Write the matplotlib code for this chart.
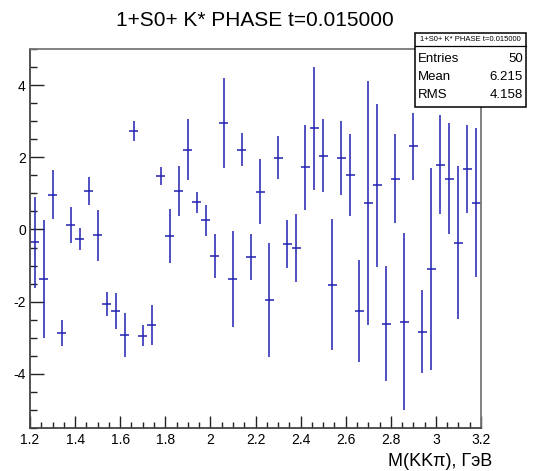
import matplotlib
matplotlib.use("Agg")
import matplotlib.pyplot as plt
from matplotlib.patches import Rectangle
from matplotlib.lines import Line2D
from matplotlib.ticker import MultipleLocator, FuncFormatter
import numpy as np

# histogram: 50 bins on [1.2, 3.2]
x_min = 1.2
x_max = 3.2
n_bins = 50

values = [-0.35, -1.38, 0.96, -2.86, 0.12, -0.27, 1.07, -0.16, -2.06, -2.26,
          -2.92, 2.73, -2.94, -2.65, 1.48, -0.17, 1.06, 2.21, 0.76, 0.26,
          -0.74, 2.95, -1.38, 2.21, -0.76, 1.04, -1.95, 1.99, -0.41, -0.52,
          1.72, 2.80, 2.04, -1.53, 1.98, 1.50, -2.25, 0.73, 1.23, -2.61,
          1.41, -2.55, 2.30, -2.83, -1.10, 1.80, 1.41, -0.37, 1.67, 0.74]
errors = [1.26, 1.64, 0.68, 0.36, 0.49, 0.30, 0.38, 0.71, 0.34, 0.50,
          0.60, 0.27, 0.28, 0.55, 0.26, 0.75, 0.69, 0.84, 0.29, 0.43,
          0.61, 1.25, 1.33, 0.46, 0.64, 0.90, 1.58, 0.59, 0.66, 0.94,
          1.17, 1.70, 1.01, 1.82, 1.03, 1.14, 1.41, 3.38, 2.26, 1.60,
          1.23, 2.46, 0.92, 1.16, 2.80, 1.36, 1.54, 2.12, 1.22, 2.07]

title = "1+S0+ K* PHASE t=0.015000"
x_label = "M(KK\u03c0), \u0413\u044d\u0412"
stats_names = ["Entries", "Mean", "RMS"]
stats_values = ["50", "6.215", "4.158"]

W, H = 543, 471
plt.rcParams["font.family"] = ["Liberation Sans", "DejaVu Sans"]

fig = plt.figure(figsize=(W / 100, H / 100), dpi=100)
fig.patch.set_facecolor("white")


def fx(px):
    return px / W


def fy(py):
    return 1 - py / H


ax = fig.add_axes([fx(30), fy(428), (481 - 30) / W, (428 - 49) / H])

edges = np.linspace(x_min, x_max, n_bins + 1)
centers = 0.5 * (edges[:-1] + edges[1:])
half = 0.5 * (edges[1] - edges[0])
ax.errorbar(centers, values, xerr=half, yerr=errors, fmt="none",
            ecolor="#2020b0", elinewidth=1.1, capsize=0)

ax.set_xlim(x_min, x_max)
ax.set_ylim(-5.5, 5.0)
ax.xaxis.set_major_locator(MultipleLocator(0.2))
ax.xaxis.set_minor_locator(MultipleLocator(0.05))
ax.yaxis.set_major_locator(MultipleLocator(2))
ax.yaxis.set_minor_locator(MultipleLocator(0.5))
ax.xaxis.set_major_formatter(FuncFormatter(lambda v, p: "%g" % round(v, 3)))
ax.yaxis.set_major_formatter(FuncFormatter(lambda v, p: "%g" % round(v, 3)))

ax.tick_params(axis="x", which="major", direction="in", length=8.6, width=1,
               color="#222222", labelsize=10, pad=3.5)
ax.tick_params(axis="x", which="minor", direction="in", length=4.3, width=1,
               color="#222222")
ax.tick_params(axis="y", which="major", direction="in", length=10, width=1,
               color="#222222", labelsize=10, pad=3)
ax.tick_params(axis="y", which="minor", direction="in", length=5, width=1,
               color="#222222")

for side in ["left", "bottom"]:
    ax.spines[side].set_color("#444444")
    ax.spines[side].set_linewidth(1.3)
for side in ["top", "right"]:
    ax.spines[side].set_color("#777777")
    ax.spines[side].set_linewidth(1.3)

fig.text(fx(255), fy(26.5), title, ha="center", va="baseline", fontsize=15)
fig.text(fx(492), fy(466), x_label, ha="right", va="baseline", fontsize=13)

# stats box
bx0, bx1, by0, by1 = 415, 526, 33, 107
fig.add_artist(Rectangle((fx(bx0), fy(by1)), (bx1 - bx0) / W, (by1 - by0) / H,
                         transform=fig.transFigure, facecolor="white",
                         edgecolor="black", linewidth=1.1, zorder=5))
fig.add_artist(Line2D([fx(bx0), fx(bx1)], [fy(46), fy(46)],
                      transform=fig.transFigure, color="black", linewidth=0.9,
                      zorder=6))
fig.text(fx(0.5 * (bx0 + bx1)), fy(39.5), title, ha="center", va="center",
         fontsize=5.5, zorder=7)
for i, (name, val) in enumerate(zip(stats_names, stats_values)):
    yy = fy(59 + i * 17.8)
    fig.text(fx(418), yy, name, ha="left", va="center", fontsize=9.5, zorder=7)
    fig.text(fx(523), yy, val, ha="right", va="center", fontsize=9.5, zorder=7)

fig.savefig("out.png", dpi=100)
